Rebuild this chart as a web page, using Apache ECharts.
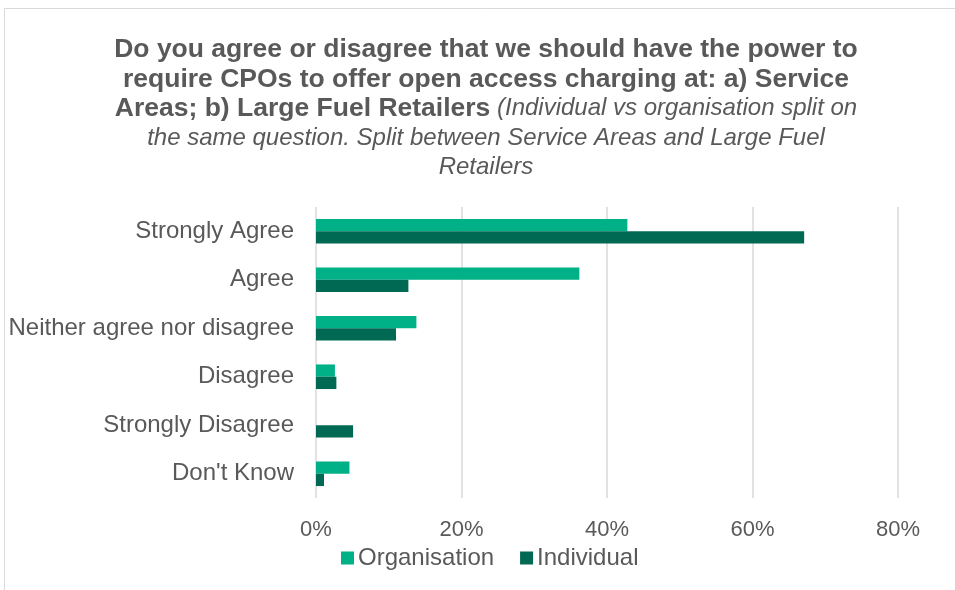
<!DOCTYPE html>
<html>
<head>
<meta charset="utf-8">
<script src="https://cdn.jsdelivr.net/npm/echarts@6/dist/echarts.min.js"></script>
<style>
  html, body { margin: 0; padding: 0; background: #fff; }
  #chart { width: 955px; height: 590px; }
</style>
</head>
<body>
<div id="chart"></div>
<script>
// Response categories, listed top to bottom
const categories = ['Strongly Agree', 'Agree', 'Neither agree nor disagree', 'Disagree', 'Strongly Disagree', "Don't Know"];
// Share of respondents (%)
const organisation = [42.8, 36.2, 13.8, 2.6, 0, 4.6];
const individual = [67.1, 12.7, 11.0, 2.8, 5.1, 1.1];
const tickValues = [0, 20, 40, 60, 80];

const gray = '#595959';
const font = 'Liberation Sans, Arial, sans-serif';
const chart = echarts.init(document.getElementById('chart'));

chart.setOption({
  animation: false,
  backgroundColor: '#fff',
  textStyle: { fontFamily: font },
  graphic: [{
    type: 'rect',
    shape: { x: 4.5, y: 8.5, width: 960, height: 600 },
    style: { fill: 'none', stroke: '#d9d9d9', lineWidth: 1 },
    silent: true
  }],
  title: {
    left: 481,
    top: 30,
    textAlign: 'center',
    text: '{b|Do you agree or disagree that we should have the power to}\n' +
          '{b|require CPOs to offer open access charging at: a) Service}\n' +
          '{b|Areas; b) Large Fuel Retailers}{i| (Individual vs organisation split on}\n' +
          '{i|the same question. Split between Service Areas and Large Fuel}\n' +
          '{i|Retailers}',
    textStyle: {
      fontWeight: 'normal',
      rich: {
        b: { fontSize: 26.5, fontWeight: 'bold', color: gray, lineHeight: 29.5, fontFamily: font },
        i: { fontSize: 24, fontWeight: 'normal', fontStyle: 'italic', color: gray, lineHeight: 29.5, fontFamily: font }
      }
    }
  },
  legend: {
    data: ['Organisation', 'Individual'],
    left: 336,
    top: 541,
    itemWidth: 13,
    itemHeight: 13,
    itemGap: 26,
    icon: 'rect',
    textStyle: { fontSize: 24, color: gray, padding: [0, 0, 0, -1] }
  },
  grid: { left: 316, right: 57, top: 207, bottom: 92, containLabel: false },
  xAxis: {
    type: 'value',
    min: 0,
    max: 80,
    interval: 20,
    axisLine: { show: false },
    axisTick: { show: false },
    axisLabel: {
      fontSize: 22,
      color: gray,
      margin: 21,
      formatter: v => tickValues.includes(v) ? v + '%' : ''
    },
    splitLine: { lineStyle: { color: '#d9d9d9', width: 1.5 } }
  },
  yAxis: {
    type: 'category',
    data: categories,
    inverse: true,
    axisLine: { show: false },
    axisTick: { show: false },
    axisLabel: { fontSize: 24, color: gray, margin: 22 }
  },
  series: [
    {
      name: 'Organisation',
      type: 'bar',
      data: organisation,
      barWidth: 12.3,
      barGap: '0%',
      barCategoryGap: '49%',
      itemStyle: { color: '#00B086' }
    },
    {
      name: 'Individual',
      type: 'bar',
      data: individual,
      barWidth: 12.3,
      barGap: '0%',
      itemStyle: { color: '#006953' }
    }
  ]
});
</script>
</body>
</html>
